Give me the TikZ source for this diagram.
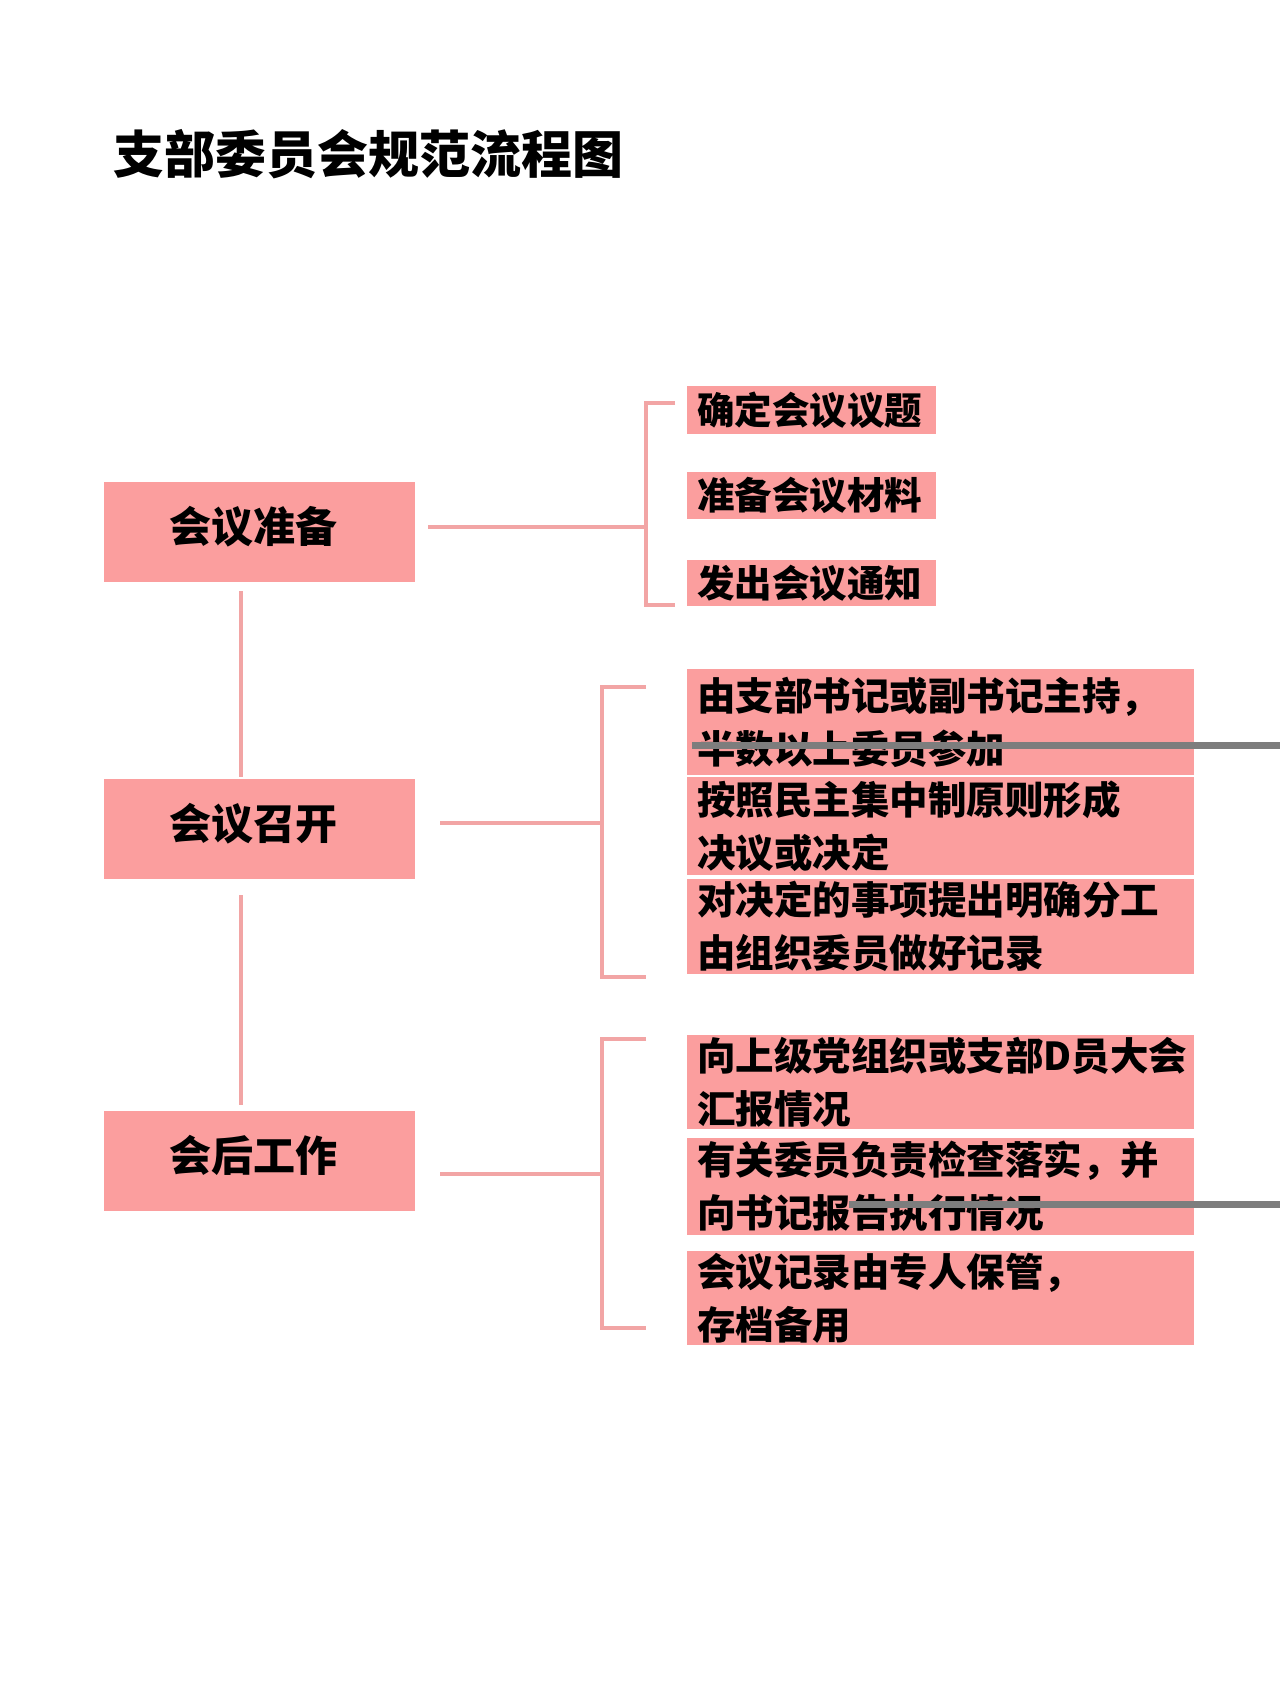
\documentclass[tikz,border=0pt]{standalone}
\usepackage{fontspec}
\setmainfont{Noto Sans CJK SC}
\definecolor{boxpink}{RGB}{251,158,158}
\definecolor{linepink}{RGB}{242,165,165}
\definecolor{bargray}{RGB}{125,125,125}
\newcommand{\lifttext}[1]{\hspace*{-12pt}\raisebox{6pt}[\height][\depth]{#1}}
\begin{document}
\begin{tikzpicture}[x=1pt,y=-1pt,
  lbox/.style={fill=boxpink,draw=none,minimum width=311pt,minimum height=100pt,inner sep=0pt,
    font=\fontsize{42}{42}\selectfont\bfseries,anchor=north west},
  rbox/.style={fill=boxpink,draw=none,inner xsep=10pt,inner ysep=0pt,anchor=north west,align=left,
    font=\fontsize{38.5}{53}\selectfont\bfseries},
  rsmall/.style={rbox,text width=229pt,minimum height=48pt,font=\fontsize{37.5}{53}\selectfont\bfseries},
  rwide/.style={rbox,text width=487pt},
  conn/.style={draw=linepink,line width=3.6pt},
]
\useasboundingbox[fill=white] (0,0) rectangle (1280,1706);

% title
\node[anchor=west,inner sep=0pt,font=\fontsize{51}{51}\selectfont\bfseries] (title) at (113,154) {支部委员会规范流程图};

% left boxes
\node[lbox] (L1) at (104,482) {\lifttext{会议准备}};
\node[lbox] (L2) at (104,779) {\lifttext{会议召开}};
\node[lbox] (L3) at (104,1111) {\lifttext{会后工作}};

% right boxes group 1
\node[rsmall] (A1) at (687,386) {确定会议议题};
\node[rsmall,minimum height=47pt] (A2) at (687,472) {准备会议材料};
\node[rsmall,minimum height=46pt] (A3) at (687,560) {发出会议通知};

% group 2
\node[rwide,minimum height=106pt] (B1) at (687,669) {由支部书记或副书记主持，\\半数以上委员参加};
\node[rwide,minimum height=98pt] (B2) at (687,777) {按照民主集中制原则形成\\决议或决定};
\node[rwide,minimum height=95pt] (B3) at (687,879) {对决定的事项提出明确分工\\由组织委员做好记录};

% group 3
\node[rwide,minimum height=94pt] (C1) at (687,1035) {向上级党组织或支部D员大会\\汇报情况};
\node[rwide,minimum height=97pt] (C2) at (687,1138) {有关委员负责检查落实，并\\向书记报告执行情况};
\node[rwide,minimum height=94pt] (C3) at (687,1251) {会议记录由专人保管，\\存档备用};

% connector coordinates
\coordinate (v1a) at (241,591);
\coordinate (v1b) at (241,777);
\coordinate (v2a) at (241,895);
\coordinate (v2b) at (241,1105);

\coordinate (h1s) at (428,527);
\coordinate (j1) at (646,527);
\coordinate (b1t) at (675,403);
\coordinate (b1tc) at (646,403);
\coordinate (b1bc) at (646,605);
\coordinate (b1b) at (675,605);

\coordinate (h2s) at (440,823);
\coordinate (j2) at (602,823);
\coordinate (b2t) at (646,687);
\coordinate (b2tc) at (602,687);
\coordinate (b2bc) at (602,977);
\coordinate (b2b) at (646,977);

\coordinate (h3s) at (440,1174);
\coordinate (j3) at (602,1174);
\coordinate (b3t) at (646,1039);
\coordinate (b3tc) at (602,1039);
\coordinate (b3bc) at (602,1328);
\coordinate (b3b) at (646,1328);

\draw[conn] (v1a) -- (v1b);
\draw[conn] (v2a) -- (v2b);
\draw[conn] (h1s) -- (j1);
\draw[conn] (b1t) -- (b1tc) -- (b1bc) -- (b1b);
\draw[conn] (h2s) -- (j2);
\draw[conn] (b2t) -- (b2tc) -- (b2bc) -- (b2b);
\draw[conn] (h3s) -- (j3);
\draw[conn] (b3t) -- (b3tc) -- (b3bc) -- (b3b);

% gray bars
\fill[bargray] (692,742) rectangle (1280,749);
\fill[bargray] (849,1201) rectangle (1280,1208);
\end{tikzpicture}
\end{document}
